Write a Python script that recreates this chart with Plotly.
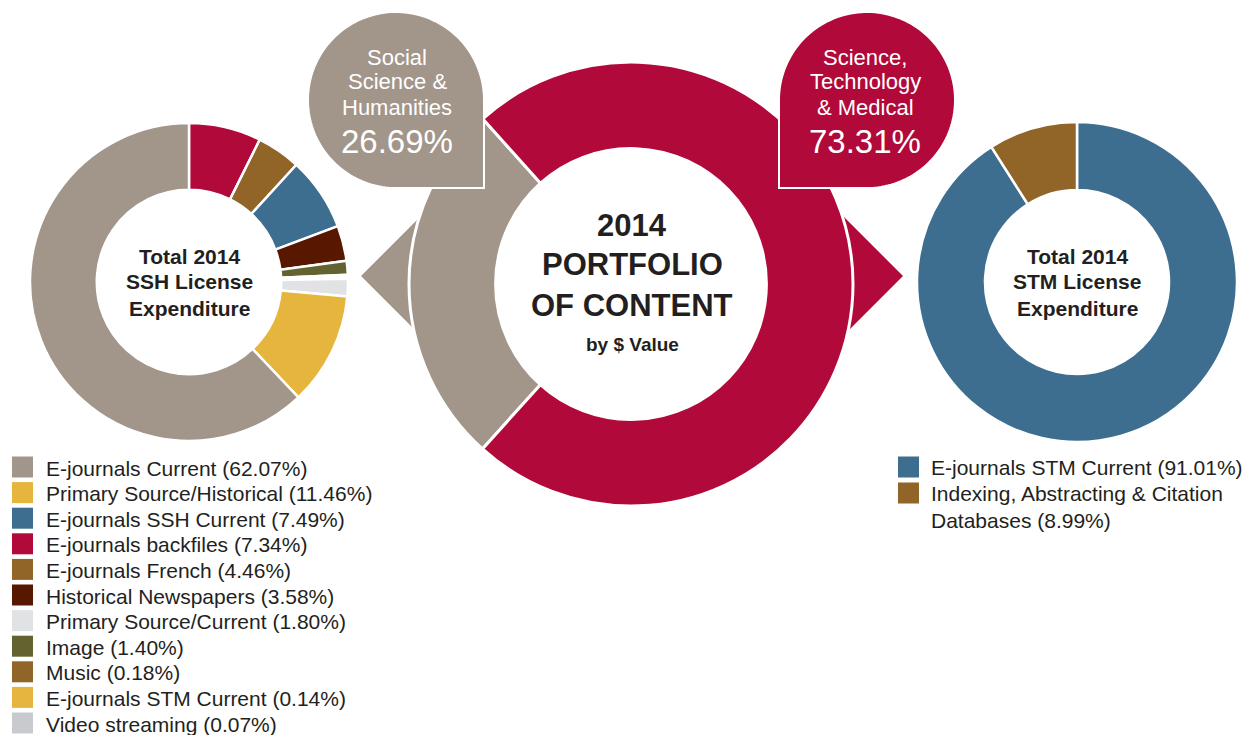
import numpy as np
import plotly.graph_objects as go

W, H = 1255, 735

# ---------------- data ----------------
center_labels = ["Social Science & Humanities", "Science, Technology & Medical"]
center_values = [26.69, 73.31]
center_colors = ["#A2958A", "#B1093A"]

ssh_labels = ["E-journals backfiles", "E-journals French", "E-journals SSH Current",
              "Historical Newspapers", "Image", "Music", "E-journals STM Current",
              "Video streaming", "Primary Source/Current", "Primary Source/Historical",
              "E-journals Current"]
ssh_values = [7.34, 4.46, 7.49, 3.58, 1.40, 0.18, 0.14, 0.07, 1.80, 11.46, 62.07]
ssh_colors = ["#B1093A", "#916428", "#3D6E8F", "#581800", "#636330", "#916428",
              "#E6B53D", "#C9CACD", "#E1E2E4", "#E6B53D", "#A2958A"]
ssh_legend_order = ["E-journals Current", "Primary Source/Historical", "E-journals SSH Current",
                    "E-journals backfiles", "E-journals French", "Historical Newspapers",
                    "Primary Source/Current", "Image", "Music", "E-journals STM Current",
                    "Video streaming"]

stm_labels = ["E-journals STM Current", "Indexing, Abstracting & Citation Databases"]
stm_values = [91.01, 8.99]
stm_colors = ["#3D6E8F", "#916428"]
stm_legend_text = ["E-journals STM Current (91.01%)",
                   "Indexing, Abstracting & Citation<br>Databases (8.99%)"]

FONT = "Liberation Sans"
TXT = "#231F20"


def X(p):
    return p / W


def Y(p):
    return 1 - p / H


def dom(cx, cy, r):
    return dict(x=[X(cx - r), X(cx + r)], y=[Y(cy + r), Y(cy - r)])


fig = go.Figure()

fig.add_trace(go.Pie(labels=ssh_labels, values=ssh_values, hole=0.58, sort=False,
                     direction="clockwise", rotation=0, textinfo="none",
                     marker=dict(colors=ssh_colors, line=dict(color="white", width=2.5)),
                     domain=dom(189, 282, 159), showlegend=False, hoverinfo="label+percent"))

fig.add_trace(go.Pie(labels=center_labels, values=center_values, hole=0.61, sort=False,
                     direction="clockwise", rotation=222, textinfo="none",
                     marker=dict(colors=center_colors, line=dict(color="white", width=3)),
                     domain=dom(631, 284, 222), showlegend=False, hoverinfo="label+percent"))

fig.add_trace(go.Pie(labels=stm_labels, values=stm_values, hole=0.575, sort=False,
                     direction="clockwise", rotation=0, textinfo="none",
                     marker=dict(colors=stm_colors, line=dict(color="white", width=2.5)),
                     domain=dom(1077, 282, 160), showlegend=False, hoverinfo="label+percent"))

shapes = []


def poly_path(pts):
    s = "M " + " L ".join(f"{X(x):.5f},{Y(y):.5f}" for x, y in pts) + " Z"
    return s


# arrows (triangles) behind the central donut
shapes.append(dict(type="path", xref="paper", yref="paper", layer="below",
                   path=poly_path([(361, 276), (445, 192), (445, 360)]),
                   fillcolor=center_colors[0], line=dict(width=0)))
shapes.append(dict(type="path", xref="paper", yref="paper", layer="below",
                   path=poly_path([(903, 276), (815, 188), (815, 364)]),
                   fillcolor=center_colors[1], line=dict(width=0)))


# bubbles
def bubble(cx, cy, r, corner):
    pts = []
    if corner == "br":
        pts += [(cx + r, cy), (cx + r, cy + r), (cx, cy + r)]
        ts = np.linspace(np.pi / 2, 2 * np.pi, 120)
    else:
        pts += [(cx, cy + r), (cx - r, cy + r), (cx - r, cy)]
        ts = np.linspace(np.pi, 2.5 * np.pi, 120)
    pts += [(cx + r * np.cos(t), cy + r * np.sin(t)) for t in ts]
    return poly_path(pts)


shapes.append(dict(type="path", xref="paper", yref="paper", layer="above",
                   path=bubble(396, 100, 88, "br"), fillcolor=center_colors[0],
                   line=dict(color="white", width=2)))
shapes.append(dict(type="path", xref="paper", yref="paper", layer="above",
                   path=bubble(867, 100, 88, "bl"), fillcolor=center_colors[1],
                   line=dict(color="white", width=2)))

annotations = []


def txt(x, y, s, size, color=TXT, bold=False, anchor="center"):
    annotations.append(dict(x=X(x), y=Y(y), xref="paper", yref="paper", text=(f"<b>{s}</b>" if bold else s),
                            showarrow=False, xanchor=anchor, yanchor="middle",
                            font=dict(family=FONT, size=size, color=color)))


# bubble texts
for i, line in enumerate(["Social", "Science &", "Humanities"]):
    txt(397, 57 + 25 * i, line, 22, "white")
txt(397, 142, f"{center_values[0]:.2f}%", 33, "white")
for i, line in enumerate(["Science,", "Technology", "& Medical"]):
    txt(865, 57 + 25 * i, line, 22, "white")
txt(865, 142, f"{center_values[1]:.2f}%", 33, "white")

# centre texts
for i, line in enumerate(["2014", "PORTFOLIO", "OF CONTENT"]):
    txt(632, 225 + 40 * i, line, 31, TXT, True)
txt(632, 344, "by $ Value", 19, TXT, True)

for i, line in enumerate(["Total 2014", "SSH License", "Expenditure"]):
    txt(189, 256 + 26 * i, line, 21, TXT, True)
for i, line in enumerate(["Total 2014", "STM License", "Expenditure"]):
    txt(1077, 256 + 26 * i, line, 21, TXT, True)

# legends
ssh_map = dict(zip(ssh_labels, zip(ssh_values, ssh_colors)))
for i, lab in enumerate(ssh_legend_order):
    v, c = ssh_map[lab]
    yc = 467 + 25.6 * i
    shapes.append(dict(type="rect", xref="paper", yref="paper", x0=X(12), x1=X(33),
                       y0=Y(yc + 10.5), y1=Y(yc - 10.5), fillcolor=c, line=dict(width=0)))
    txt(44, yc + 1, f"{lab} ({v:.2f}%)", 21, TXT, False, "left")

for i, (lab, c) in enumerate(zip(stm_legend_text, stm_colors)):
    yc = 467 + 26 * i
    shapes.append(dict(type="rect", xref="paper", yref="paper", x0=X(898), x1=X(919),
                       y0=Y(yc + 10.5), y1=Y(yc - 10.5), fillcolor=c, line=dict(width=0)))
    annotations.append(dict(x=X(929), y=Y(yc - 13), xref="paper", yref="paper", text=lab,
                            showarrow=False, xanchor="left", yanchor="top", align="left",
                            font=dict(family=FONT, size=21, color=TXT)))

fig.update_layout(width=W, height=H, autosize=False,
                  margin=dict(l=0, r=0, t=0, b=0),
                  paper_bgcolor="white", plot_bgcolor="white",
                  shapes=shapes, annotations=annotations, showlegend=False)

fig.write_html("out.html", config={"displayModeBar": False},
               post_script="document.body.style.margin='0px';")
